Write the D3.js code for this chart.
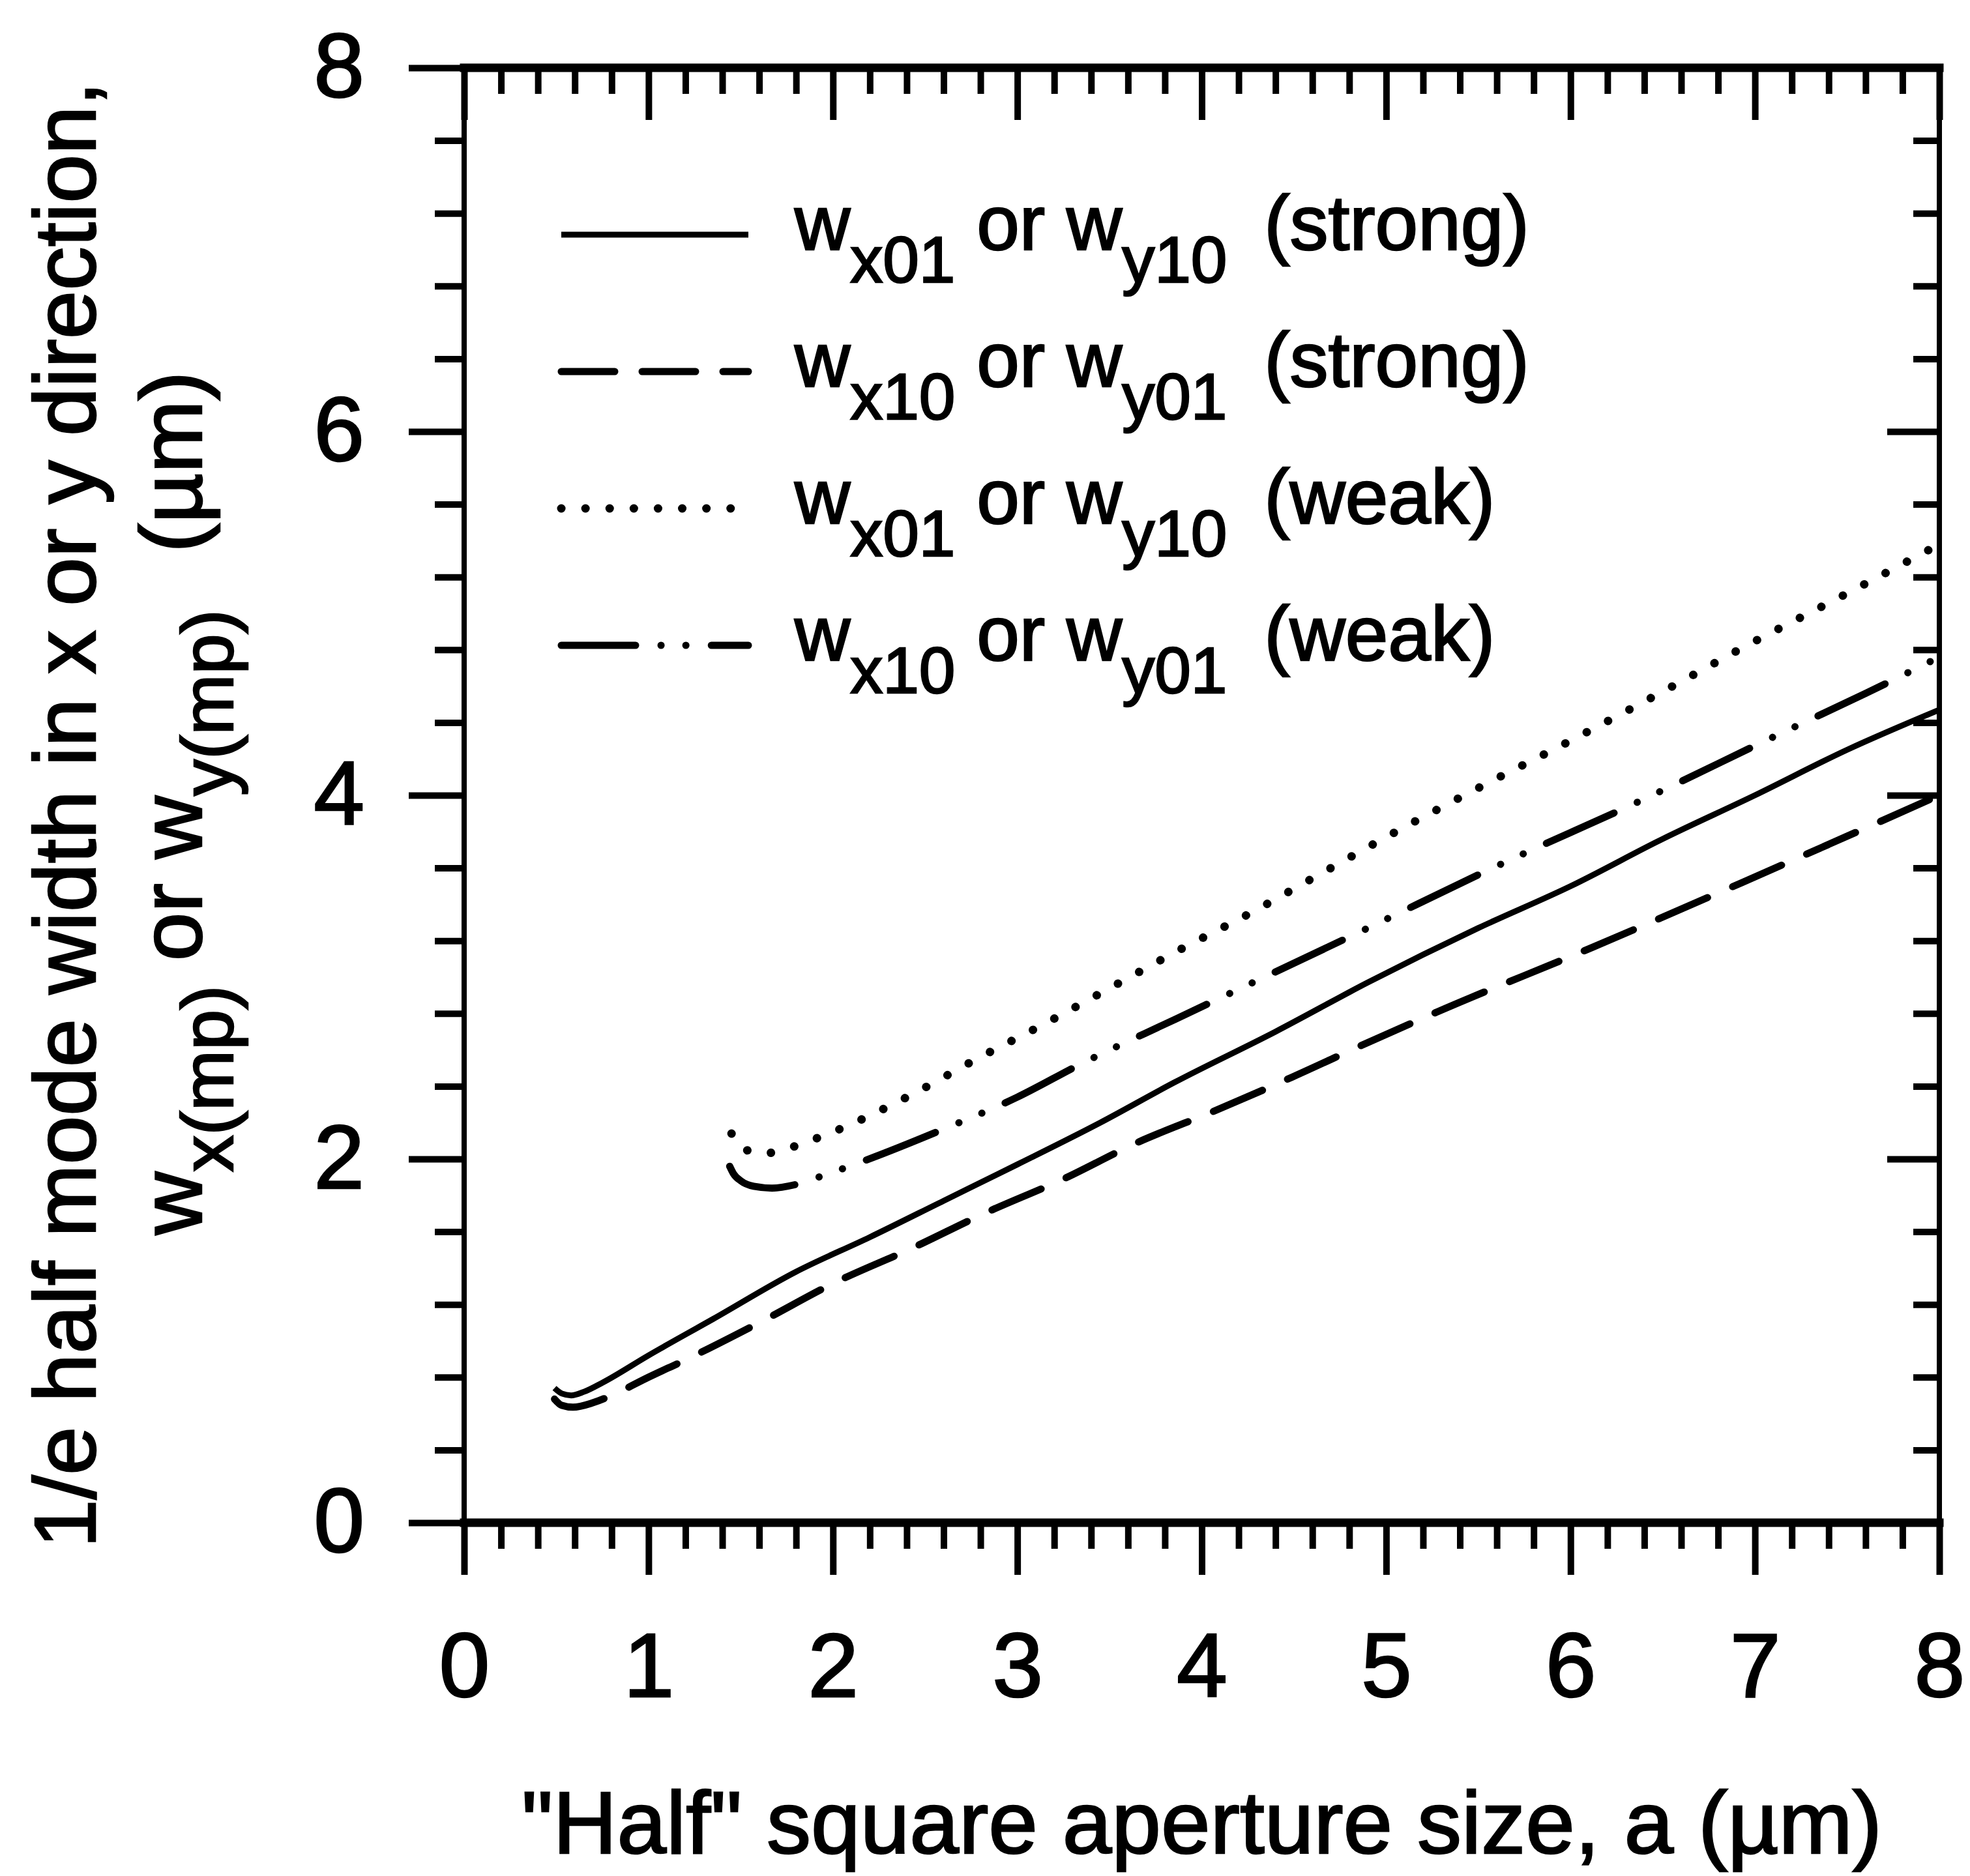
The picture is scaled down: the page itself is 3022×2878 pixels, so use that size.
<!DOCTYPE html>
<html><head><meta charset="utf-8">
<script src="https://cdn.jsdelivr.net/npm/d3@7"></script>
<style>
body{margin:0;background:#fff}
svg{display:block;background:#fff}
text{font-family:"Liberation Sans",Arial,Helvetica,sans-serif;fill:#000;stroke:#000;stroke-width:2.5px;white-space:pre}
</style>
</head><body>
<svg id="c" width="3022" height="2878"></svg>
<script>
// ---- data ----
const xTicks = [0,1,2,3,4,5,6,7,8];
const xTickLabels = ["0","1","2","3","4","5","6","7","8"];
const yTicks = [0,2,4,6,8];
const yTickLabels = ["0","2","4","6","8"];

// w_x01 or w_y10 (strong) - solid
const strong01X = [0.49,0.53,0.58,0.65,0.75,1.0,1.35,1.8,2.2,2.6,3.0,3.45,3.85,4.4,4.9,5.5,6.0,6.5,7.0,7.5,8.0];
const strong01Y = [0.74,0.71,0.70,0.72,0.77,0.92,1.12,1.38,1.57,1.77,1.97,2.20,2.42,2.70,2.97,3.27,3.50,3.76,4.00,4.25,4.47];
// w_x10 or w_y01 (strong) - dashed
const strong10X = [0.49,0.53,0.59,0.7,0.8,1.0,1.21,1.62,2.01,2.43,2.82,3.25,3.65,4.06,4.49,4.9,5.28,6.11,6.93,7.4,8.0];
const strong10Y = [0.68,0.645,0.635,0.66,0.70,0.80,0.90,1.11,1.32,1.51,1.70,1.89,2.09,2.26,2.45,2.64,2.81,3.16,3.52,3.73,4.0];
// w_x01 or w_y10 (weak) - dotted
const weak01X = [1.45,1.48,1.53,1.6,1.7,1.82,2.05,2.42,2.78,3.16,3.52,3.88,4.26,4.63,5.0,5.5,6.0,6.5,6.95,7.5,8.0];
const weak01Y = [2.14,2.08,2.05,2.03,2.04,2.08,2.17,2.35,2.55,2.75,2.95,3.15,3.35,3.56,3.77,4.04,4.30,4.57,4.82,5.11,5.38];
// w_x10 or w_y01 (weak) - dash-dot-dot
const weak10X = [1.44,1.46,1.5,1.57,1.67,1.8,1.95,2.17,2.59,3.0,3.34,3.86,4.11,4.86,5.62,6.38,7.14,7.6,8.0];
const weak10Y = [1.96,1.92,1.88,1.85,1.84,1.86,1.91,1.99,2.16,2.34,2.52,2.77,2.89,3.25,3.62,3.97,4.34,4.56,4.76];

const legendSub1 = ["x01","x10","x01","x10"];
const legendSub2 = ["y10","y01","y10","y01"];
const legendTag  = ["(strong)","(strong)","(weak)","(weak)"];

// ---- drawing ----
const svg = d3.select("#c");
const FONT = '"Liberation Sans",Arial,Helvetica,sans-serif';
const x = d3.scaleLinear().domain([0,8]).range([712,2975]);
const y = d3.scaleLinear().domain([0,8]).range([2336,104]);

const minorX = d3.range(0,8.0001,0.2).filter(v=>Math.abs(v-Math.round(v))>1e-6);
const minorY = d3.range(0,8.0001,0.4).filter(v=>Math.abs(v/2-Math.round(v/2))>1e-6);

function finish(g, w){
  g.attr("font-size",null).attr("font-family",null);
  g.selectAll(".domain").remove();
  g.selectAll("line").attr("stroke","#000").attr("stroke-width",w);
  g.selectAll("text").attr("font-size",140).attr("font-family",FONT).attr("fill","#000");
}
const TW = 10;
// bottom axis (outward)
svg.append("g").attr("transform",`translate(0,${y(0)})`)
  .call(d3.axisBottom(x).tickValues(minorX).tickSize(40).tickFormat(""))
  .call(g=>finish(g,TW));
svg.append("g").attr("transform",`translate(0,${y(0)})`)
  .call(d3.axisBottom(x).tickValues(xTicks).tickSize(80).tickPadding(88)
        .tickFormat(d=>xTickLabels[xTicks.indexOf(d)]))
  .call(g=>finish(g,TW));
// top axis (inward)
svg.append("g").attr("transform",`translate(0,${y(8)})`)
  .call(d3.axisTop(x).tickValues(minorX).tickSize(-40).tickFormat(""))
  .call(g=>finish(g,TW));
svg.append("g").attr("transform",`translate(0,${y(8)})`)
  .call(d3.axisTop(x).tickValues(xTicks).tickSize(-80).tickFormat(""))
  .call(g=>finish(g,TW));
// left axis (outward)
svg.append("g").attr("transform",`translate(${x(0)},0)`)
  .call(d3.axisLeft(y).tickValues(minorY).tickSize(45).tickFormat(""))
  .call(g=>finish(g,TW));
svg.append("g").attr("transform",`translate(${x(0)},0)`)
  .call(d3.axisLeft(y).tickValues(yTicks).tickSize(85).tickPadding(68)
        .tickFormat(d=>yTickLabels[yTicks.indexOf(d)]))
  .call(g=>finish(g,TW));
// right axis (inward)
svg.append("g").attr("transform",`translate(${x(8)},0)`)
  .call(d3.axisRight(y).tickValues(minorY).tickSize(-40).tickFormat(""))
  .call(g=>finish(g,TW));
svg.append("g").attr("transform",`translate(${x(8)},0)`)
  .call(d3.axisRight(y).tickValues(yTicks).tickSize(-80).tickFormat(""))
  .call(g=>finish(g,TW));

// frame
const frame = svg.append("g").attr("stroke","#000").attr("stroke-linecap","square");
frame.append("line").attr("x1",x(0)).attr("x2",x(8)).attr("y1",y(8)).attr("y2",y(8)).attr("stroke-width",13);
frame.append("line").attr("x1",x(0)).attr("x2",x(8)).attr("y1",y(0)).attr("y2",y(0)).attr("stroke-width",13);
frame.append("line").attr("x1",x(0)).attr("x2",x(0)).attr("y1",y(0)).attr("y2",y(8)).attr("stroke-width",8);
frame.append("line").attr("x1",x(8)).attr("x2",x(8)).attr("y1",y(0)).attr("y2",y(8)).attr("stroke-width",8);

// series
const styles = [
  {dash:null, width:9, cap:"butt"},
  {dash:"82,42", width:11, cap:"round"},
  {dash:"0.1,37", width:13, cap:"round"},
  {dash:"114,39,0.1,38,0.1,39", width:11, cap:"round"}
];
const series = [
  d3.zip(strong01X,strong01Y),
  d3.zip(strong10X,strong10Y),
  d3.zip(weak01X,weak01Y),
  d3.zip(weak10X,weak10Y)
];
const line = d3.line().x(d=>x(d[0])).y(d=>y(d[1])).curve(d3.curveMonotoneX);
series.forEach((s,i)=>{
  svg.append("path").attr("d",line(s)).attr("fill","none").attr("stroke","#000")
    .attr("stroke-width",styles[i].width).attr("stroke-linecap",styles[i].cap)
    .attr("stroke-linejoin","round")
    .attr("stroke-dasharray",styles[i].dash);
});

// legend
const leg = svg.append("g");
legendTag.forEach((tag,i)=>{
  const base = 383 + i*210;
  leg.append("line").attr("x1",861).attr("x2",1148).attr("y1",base-23).attr("y2",base-23)
    .attr("stroke","#000").attr("stroke-width",styles[i].width)
    .attr("stroke-linecap",styles[i].cap).attr("stroke-dasharray",styles[i].dash);
  const t = leg.append("text").attr("x",1219).attr("y",base).attr("font-size",118);
  t.append("tspan").text("w");
  t.append("tspan").attr("font-size",100).attr("dy",50).text(legendSub1[i]);
  t.append("tspan").attr("dy",-50).text(" or ");
  t.append("tspan").text("w");
  t.append("tspan").attr("font-size",100).attr("dy",50).text(legendSub2[i]);
  t.append("tspan").attr("dy",-50).attr("dx",24).text(" "+tag);
});

// axis titles
svg.append("text").attr("x",(x(0)+x(8))/2).attr("y",2843).attr("text-anchor","middle")
  .attr("font-size",136).text('"Half" square aperture size, a (\u00b5m)');

svg.append("text").attr("transform","translate(146,1250) rotate(-90)").attr("text-anchor","middle")
  .attr("font-size",134).text("1/e half mode width in x or y direction,");

const t2 = svg.append("text").attr("transform","translate(309,1232) rotate(-90)")
  .attr("text-anchor","middle").attr("font-size",134);
t2.append("tspan").text("w");
t2.append("tspan").attr("font-size",112).attr("dy",48).text("x(mp)");
t2.append("tspan").attr("dy",-48).text(" or ");
t2.append("tspan").text("w");
t2.append("tspan").attr("font-size",112).attr("dy",48).text("y(mp)");
t2.append("tspan").attr("dy",-48).attr("dx",50).text(" (\u00b5m)");
</script>
</body></html>
